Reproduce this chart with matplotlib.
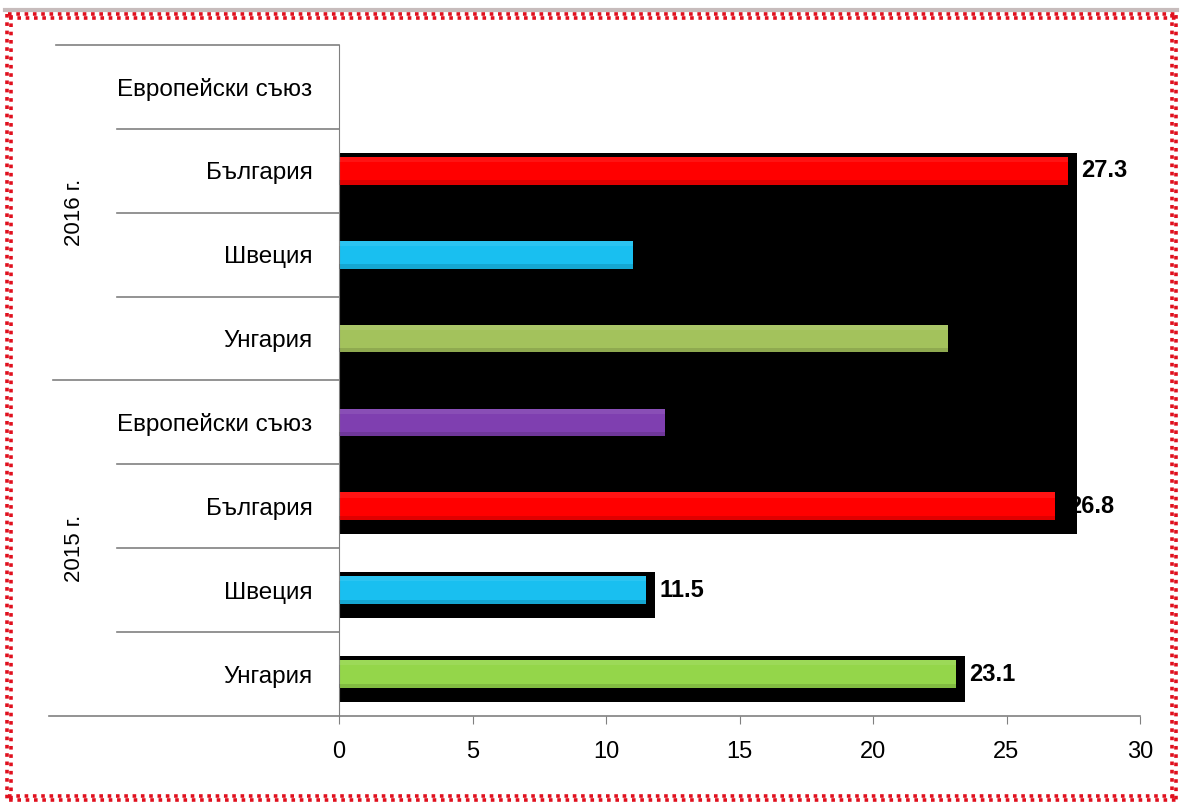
import numpy as np
import matplotlib.pyplot as plt
from matplotlib.lines import Line2D

# data
groups = ['2016 г.', '2015 г.']
countries = ['Европейски съюз', 'България', 'Швеция', 'Унгария']
values_2016 = [np.nan, 27.3, 11.0, 22.8]
values_2015 = [12.2, 26.8, 11.5, 23.1]
labelled_2016 = [False, True, False, False]
labelled_2015 = [False, True, True, True]
colors_2016 = ['#7f3fb0', '#ff0000', '#19bff0', '#a3c25c']
colors_2015 = ['#7f3fb0', '#ff0000', '#19bff0', '#94d64a']
x_ticks = [0, 5, 10, 15, 20, 25, 30]

FONT = ['Liberation Sans', 'DejaVu Sans']
plt.rcParams['font.family'] = FONT


def main():
    W, H = 1182, 805
    fig = plt.figure(figsize=(W / 100, H / 100), dpi=100)
    fig.patch.set_facecolor('white')

    ax = fig.add_axes([339 / W, 1 - 716 / H, (1140 - 339) / W, (716 - 45) / H])
    ax.set_facecolor('none')

    values = values_2016 + values_2015
    colors = colors_2016 + colors_2015
    labelled = labelled_2016 + labelled_2015
    cats = countries + countries
    n = len(values)
    ypos = np.arange(n)

    bar_h = 0.33
    pad_top, pad_bot, pad_right = 0.05, 0.17, 0.33

    # black "shadow" boxes behind the bars
    block = [1, 2, 3, 4, 5]
    block_w = np.nanmax([values[i] for i in block]) + pad_right
    top = ypos[block[0]] - bar_h / 2 - pad_top
    bot = ypos[block[-1]] + bar_h / 2 + pad_bot
    ax.barh((top + bot) / 2, block_w, height=bot - top, color='black', zorder=1)
    for i in range(n):
        if np.isnan(values[i]) or i in block:
            continue
        t = ypos[i] - bar_h / 2 - pad_top
        b = ypos[i] + bar_h / 2 + pad_bot
        ax.barh((t + b) / 2, values[i] + pad_right, height=b - t, color='black', zorder=1)

    # bars
    vals = np.nan_to_num(values)
    ax.barh(ypos, vals, height=bar_h, color=colors, zorder=2)
    # soft top highlight / bottom shade
    ax.barh(ypos - bar_h / 2 + 0.03, vals, height=0.06, color='white', alpha=0.08, zorder=3)
    ax.barh(ypos + bar_h / 2 - 0.025, vals, height=0.05, color='black', alpha=0.12, zorder=3)

    for i in range(n):
        if labelled[i]:
            ax.annotate(f'{values[i]:.1f}', (values[i] + pad_right * 0.4, ypos[i]),
                        xytext=(7, 0), textcoords='offset points', ha='left', va='center',
                        fontsize=17, fontweight='bold', family=FONT, zorder=4)

    ax.set_xlim(0, 30)
    ax.set_ylim(n - 0.5, -0.5)
    ax.set_xticks(x_ticks)
    ax.set_xticklabels([str(t) for t in x_ticks], fontsize=17)
    ax.tick_params(axis='x', length=6, color='#808080', pad=12)
    ax.set_yticks(ypos)
    ax.set_yticklabels(cats, fontsize=17.5)
    ax.tick_params(axis='y', length=0, pad=19)

    for s in ['top', 'right']:
        ax.spines[s].set_visible(False)
    ax.spines['left'].set_color('#808080')
    ax.spines['bottom'].set_visible(False)

    ytr = ax.get_yaxis_transform()
    # category separators
    for i in range(1, n):
        x0 = -0.357 if i == 4 else -0.277
        ax.plot([x0, 0], [i - 0.5, i - 0.5], color='#808080', lw=1.2, transform=ytr, clip_on=False)
    ax.plot([-0.353, 0], [-0.5, -0.5], color='#808080', lw=1.2, transform=ytr, clip_on=False)
    ax.plot([-0.362, 1], [n - 0.5, n - 0.5], color='#808080', lw=1.2, transform=ytr, clip_on=False)

    # group labels
    for g, name in enumerate(groups):
        yc = g * 4 + 1.5
        ax.text(-0.33, yc, name, rotation=90, ha='center', va='center', fontsize=16,
                transform=ytr, family=FONT)

    # dotted red frame
    def fx(p):
        return p / W

    def fy(p):
        return 1 - p / H

    fig.add_artist(Line2D([fx(5), fx(1177)], [fy(10), fy(10)], color='#b0a0a0', lw=3, alpha=0.7))
    for off, ph in [(0, 0), (4, 2)]:
        kw = dict(color='#e0101e', lw=2.6, linestyle=(ph, (1, 1.3)))
        fig.add_artist(Line2D([fx(8), fx(1177)], [fy(14 + off), fy(14 + off)], **kw))
        fig.add_artist(Line2D([fx(8), fx(1177)], [fy(796 + off), fy(796 + off)], **kw))
        fig.add_artist(Line2D([fx(7 + off), fx(7 + off)], [fy(14), fy(800)], **kw))
        fig.add_artist(Line2D([fx(1172 + off), fx(1172 + off)], [fy(14), fy(800)], **kw))

    fig.savefig('out.png', dpi=100)


if __name__ == '__main__':
    main()
